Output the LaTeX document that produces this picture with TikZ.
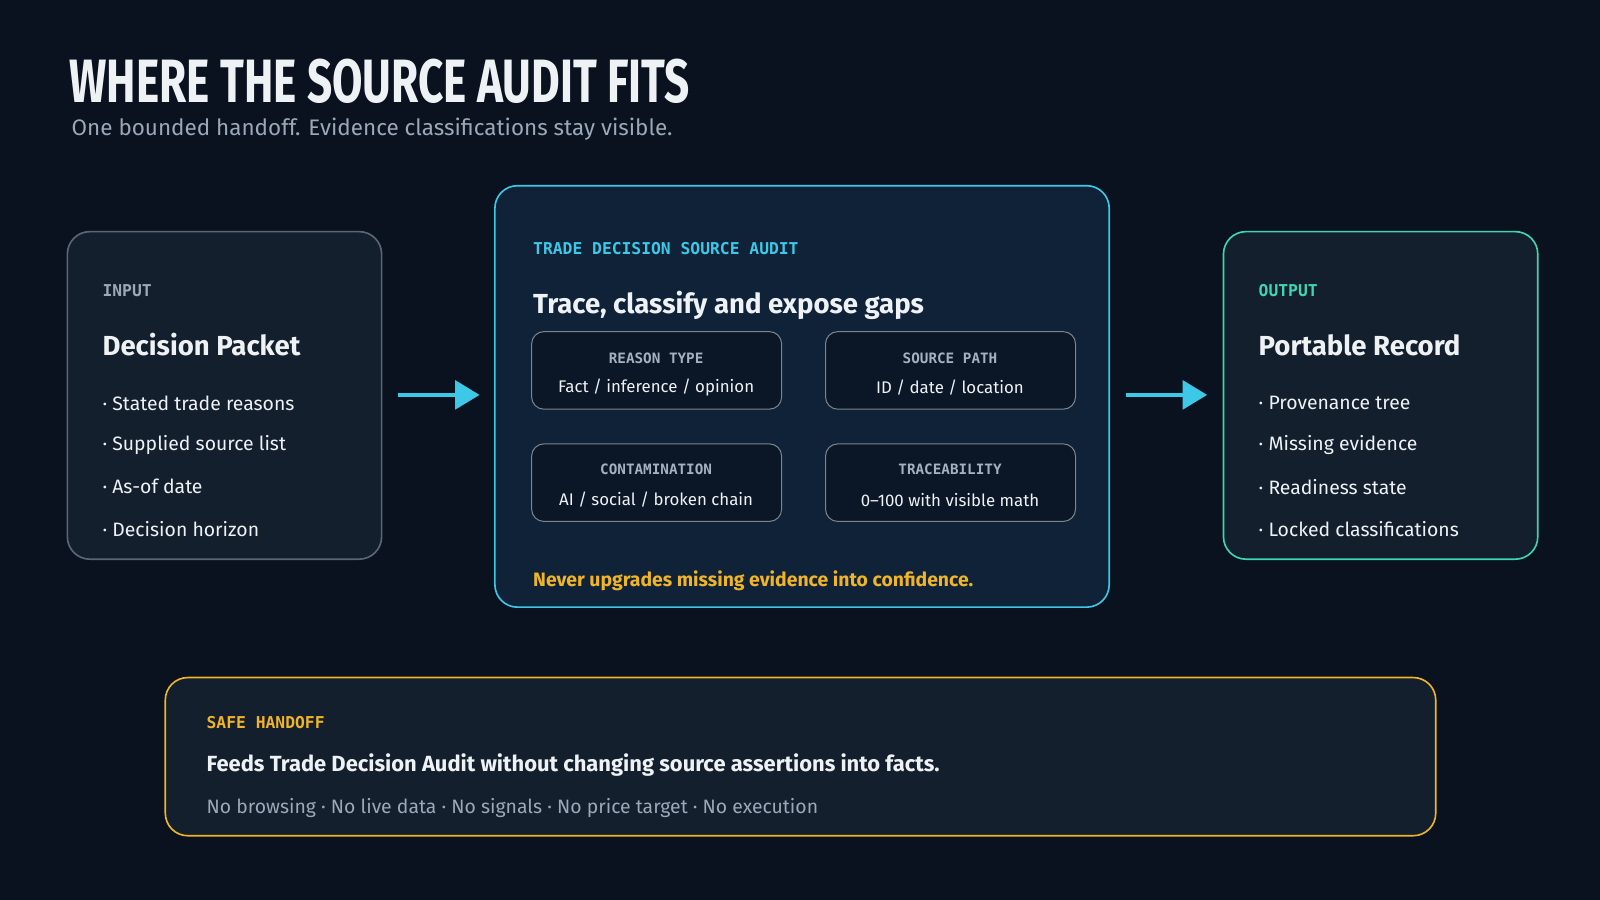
\documentclass[tikz,border=0pt]{standalone}
\usepackage{fontspec}
\setmainfont{Fira Sans}
\setmonofont{DejaVu Sans Mono}
\newfontfamily\titlefont{Fira Sans}
\usetikzlibrary{arrows.meta}
\definecolor{bg}{HTML}{0A1220}
\definecolor{card}{HTML}{131F2D}
\definecolor{cardc}{HTML}{0F2238}
\definecolor{inner}{HTML}{0B1726}
\definecolor{cyan}{HTML}{3CC8E6}
\definecolor{teal}{HTML}{3DD6B0}
\definecolor{amber}{HTML}{F0B429}
\definecolor{txt}{HTML}{EEF2F5}
\definecolor{mut}{HTML}{9AA8B8}
\definecolor{gborder}{HTML}{5A6676}
\begin{document}
\begin{tikzpicture}[x=1pt,y=-1pt,
  card/.style={rounded corners=22pt,line width=1.6pt},
  ibox/.style={rounded corners=12pt,line width=1pt,draw=gborder!80,fill=inner},
  lab/.style={anchor=west,font=\ttfamily\bfseries\fontsize{16}{18}\selectfont},
  head/.style={anchor=west,text=txt,font=\bfseries\fontsize{27}{30}\selectfont},
  bul/.style={anchor=west,text=txt,font=\fontsize{19}{22}\selectfont},
  ilab/.style={text=mut!90!white,font=\ttfamily\bfseries\fontsize{14}{16}\selectfont},
  itxt/.style={text=txt,font=\fontsize{16.5}{19}\selectfont},
  arr/.style={cyan,line width=4pt,-{Triangle[length=24pt,width=28pt]}}]
\fill[bg] (0,0) rectangle (1568,882);
\useasboundingbox (0,0) rectangle (1568,882);
\node[anchor=west,text=txt,inner sep=0] (title) at (68,80) {\scalebox{0.72}[1]{\titlefont\bfseries\fontsize{60}{62}\selectfont WHERE THE SOURCE AUDIT FITS}};
\node[anchor=west,text=mut,inner sep=0] (sub) at (70,127) {\fontsize{22}{24}\selectfont One bounded handoff. Evidence classifications stay visible.};
% input
\draw[card,draw=gborder,fill=card] (66,227) rectangle (374,548);
\node (inl) [lab,text=mut] at (97,285) {INPUT};
\node (inh) [head] at (97,338) {Decision Packet};
\node (i1) [bul] at (97,395) {· Stated trade reasons};
\node (i2) [bul] at (97,436) {· Supplied source list};
\node (i3) [bul] at (97,477) {· As-of date};
\node (i4) [bul] at (97,518) {· Decision horizon};
% center
\draw[card,draw=cyan,fill=cardc] (485,182) rectangle (1087,595);
\node (cl) [lab,text=cyan] at (519,244) {TRADE DECISION SOURCE AUDIT};
\node (ch) [head] at (519,299) {Trace, classify and expose gaps};
\draw[ibox] (521,325) rectangle (766,401);
\node (a1) [ilab] at (643,351) {REASON TYPE};
\node (a2) [itxt] at (643,380) {Fact / inference / opinion};
\draw[ibox] (809,325) rectangle (1054,401);
\node (b1) [ilab] at (931,351) {SOURCE PATH};
\node (b2) [itxt] at (931,380) {ID / date / location};
\draw[ibox] (521,435) rectangle (766,511);
\node (c1) [ilab] at (643,460) {CONTAMINATION};
\node (c2) [itxt] at (643,490) {AI / social / broken chain};
\draw[ibox] (809,435) rectangle (1054,511);
\node (d1) [ilab] at (931,460) {TRACEABILITY};
\node (d2) [itxt] at (931,490) {0–100 with visible math};
\node (warn) [anchor=west,text=amber,font=\bfseries\fontsize{19}{22}\selectfont] at (519,569) {Never upgrades missing evidence into confidence.};
% output
\draw[card,draw=teal,fill=card] (1199,227) rectangle (1507,548);
\node (ol) [lab,text=teal] at (1230,285) {OUTPUT};
\node (oh) [head] at (1230,338) {Portable Record};
\node (o1) [bul] at (1230,395) {· Provenance tree};
\node (o2) [bul] at (1230,436) {· Missing evidence};
\node (o3) [bul] at (1230,477) {· Readiness state};
\node (o4) [bul] at (1230,518) {· Locked classifications};
% arrows
\coordinate (a0) at (390,387); \coordinate (a9) at (470,387);
\coordinate (b0) at (1103,387); \coordinate (b9) at (1183,387);
\draw[arr] (a0) -- (a9);
\draw[arr] (b0) -- (b9);
% handoff
\draw[card,draw=amber,fill=card] (162,664) rectangle (1407,819);
\node (hl) [lab,text=amber] at (199,708) {SAFE HANDOFF};
\node (hh) [anchor=west,text=txt,font=\bfseries\fontsize{21.5}{24}\selectfont] at (199,750) {Feeds Trade Decision Audit without changing source assertions into facts.};
\node (hs) [anchor=west,text=mut,font=\fontsize{19}{22}\selectfont] at (199,792) {No browsing · No live data · No signals · No price target · No execution};
\end{tikzpicture}
\end{document}
